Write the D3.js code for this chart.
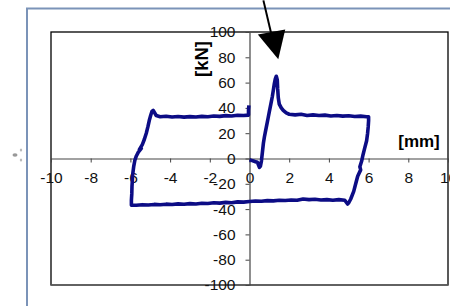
<!DOCTYPE html>
<html>
<head>
<meta charset="utf-8">
<script src="https://cdn.jsdelivr.net/npm/d3@7"></script>
<style>
  body { margin: 0; background: #fff; }
  text { font-family: "Liberation Sans", Arial, sans-serif; }
</style>
</head>
<body>
<div class="chart"></div>
<script>
// tick values
var xTicks = [-10, -8, -6, -4, -2, 0, 2, 4, 6, 8, 10];
var yTicks = [-100, -80, -60, -40, -20, 0, 20, 40, 60, 80, 100];

// hysteresis loop, in drawing order [mm, kN]
var firstLoad = [[0,-1],[0.1,-1.5],[0.2,-2],[0.3,-2.5],[0.4,-3],[0.45,-5],[0.5,-7],[0.55,-6],
  [0.6,-2],[0.65,5],[0.7,12],[0.75,17],[0.8,21],[0.85,25],[0.9,29],[0.95,33],[1.0,37],[1.05,41],
  [1.1,45],[1.15,49],[1.2,54],[1.25,59],[1.3,63],[1.35,65],[1.4,62],[1.42,55],[1.45,48],[1.5,43],
  [1.6,40],[1.7,38],[1.85,36],[2.0,35]];
var topRight = [[2.3,34.5],[2.6,35],[2.9,34],[3.2,34.5],[3.5,34],[3.8,34.3],[4.1,33.6],[4.4,34],
  [4.7,33.5],[5.0,33.8],[5.3,33.2],[5.6,33.5],[5.9,33],[6.0,33]];
var unloadRight = [[6.0,30],[5.98,25],[5.95,20],[5.9,14],[5.8,8],[5.72,3],[5.65,-2],[5.56,-6.5],
  [5.6,-9],[5.45,-14],[5.35,-20],[5.25,-26],[5.1,-32],[5.0,-35],[4.94,-36]];
var bottom = [[4.8,-33],[4.5,-32.5],[4.2,-33],[3.9,-32.5],[3.6,-32.8],[3.3,-32.2],[3.0,-32.5],
  [2.7,-32],[2.4,-33],[2.1,-32.8],[1.8,-33.2],[1.5,-33],[1.2,-33.5],[0.9,-33.3],[0.6,-33.8],
  [0.3,-33.6],[0,-34],[-0.3,-34.5],[-0.6,-34.3],[-0.9,-35],[-1.2,-34.7],[-1.5,-35.3],[-1.8,-35],
  [-2.1,-35.6],[-2.4,-35.4],[-2.7,-36],[-3.0,-35.7],[-3.3,-36.2],[-3.6,-35.9],[-3.9,-36.4],
  [-4.2,-36.1],[-4.5,-36.6],[-4.8,-36.3],[-5.1,-36.8],[-5.4,-36.5],[-5.7,-37],[-5.95,-37]];
var reloadLeft = [[-5.95,-33],[-5.93,-28],[-5.92,-22],[-5.9,-17],[-5.88,-12],[-5.83,-6],
  [-5.77,-1],[-5.7,2],[-5.6,5],[-5.45,8],[-5.55,7],[-5.4,11],[-5.3,15],[-5.2,20],[-5.12,25],
  [-5.05,30],[-4.98,34],[-4.92,37],[-4.85,38]];
var topLeft = [[-4.7,34],[-4.5,33],[-4.2,33.4],[-3.9,32.8],[-3.6,33.2],[-3.3,32.7],[-3.0,33.1],
  [-2.7,32.8],[-2.4,33.3],[-2.1,33],[-1.8,33.6],[-1.5,33.3],[-1.2,33.9],[-0.9,33.6],[-0.6,34.2],
  [-0.3,34],[-0.05,34.3],[-0.05,38],[-0.03,42]];

// arrow pointing at the peak, in data units
var arrowTail = [0.7, 125];
var arrowHead = [[0.42, 98], [1.8, 102], [1.45, 78.5]];

var W = 450, H = 306;
var plot = { left: 51, right: 448, top: 32, bottom: 285 };

var svg = d3.select('.chart').append('svg').attr('width', W).attr('height', H);
svg.append('rect').attr('width', W).attr('height', H).attr('fill', '#fff');

// outer chart frame
svg.append('path').attr('d', 'M27,306V8.5H450').attr('fill', 'none')
  .attr('stroke', '#7b93b8').attr('stroke-width', 2);

// little grey smudge on the left
svg.append('ellipse').attr('cx', 15).attr('cy', 155).attr('rx', 2.5).attr('ry', 1.8).attr('fill', '#999');
svg.append('ellipse').attr('cx', 21).attr('cy', 150).attr('rx', 1.2).attr('ry', 1.5).attr('fill', '#bbb');
svg.append('ellipse').attr('cx', 21).attr('cy', 160).attr('rx', 1.2).attr('ry', 1.5).attr('fill', '#bbb');

var x = d3.scaleLinear().domain([-10, 10]).range([plot.left, plot.right]);
var y = d3.scaleLinear().domain([-100, 100]).range([plot.bottom, plot.top]);

svg.append('rect').attr('x', plot.left).attr('y', plot.top)
  .attr('width', plot.right - plot.left).attr('height', plot.bottom - plot.top)
  .attr('fill', 'none').attr('stroke', '#000').attr('stroke-width', 1.3);
svg.append('line').attr('x1', plot.left).attr('x2', plot.right)
  .attr('y1', plot.bottom).attr('y2', plot.bottom).attr('stroke', '#666').attr('stroke-width', 1.5);

var xAxis = svg.append('g').attr('transform', 'translate(0,' + y(0) + ')')
  .call(d3.axisBottom(x).tickValues(xTicks).tickSize(4).tickSizeOuter(0).tickPadding(9)
    .tickFormat(String));
var yAxis = svg.append('g').attr('transform', 'translate(' + x(0) + ',0)')
  .call(d3.axisLeft(y).tickValues(yTicks).tickSize(4).tickSizeOuter(0).tickPadding(10)
    .tickFormat(String));

[xAxis, yAxis].forEach(function (g) {
  g.select('.domain').attr('stroke', '#444').attr('stroke-width', 1.2);
  g.selectAll('.tick line').attr('stroke', '#444');
  g.selectAll('.tick text').attr('font-size', 15.5).attr('fill', '#111')
    .style('font-family', '"Liberation Sans", Arial, sans-serif');
});

svg.append('text').attr('transform', 'translate(208,59) rotate(-90)')
  .attr('text-anchor', 'middle').attr('font-size', 18.5).attr('font-weight', 'bold')
  .text('[kN]');
svg.append('text').attr('x', 419).attr('y', 147)
  .attr('text-anchor', 'middle').attr('font-size', 17).attr('font-weight', 'bold')
  .text('[mm]');

// the loop
var loop = [].concat(firstLoad, topRight, unloadRight, bottom, reloadLeft, topLeft);
var line = d3.line().x(function (d) { return x(d[0]); }).y(function (d) { return y(d[1]); });
svg.append('path').datum(loop).attr('d', line).attr('fill', 'none')
  .attr('stroke', '#0c0c85').attr('stroke-width', 3.6).attr('stroke-linejoin', 'round');

// arrow
svg.append('line').attr('x1', x(arrowTail[0])).attr('y1', y(arrowTail[1]))
  .attr('x2', x(1.15)).attr('y2', y(95)).attr('stroke', '#000').attr('stroke-width', 2);
svg.append('path').datum(arrowHead)
  .attr('d', function (d) { return line(d) + 'Z'; }).attr('fill', '#000');
</script>
</body>
</html>
